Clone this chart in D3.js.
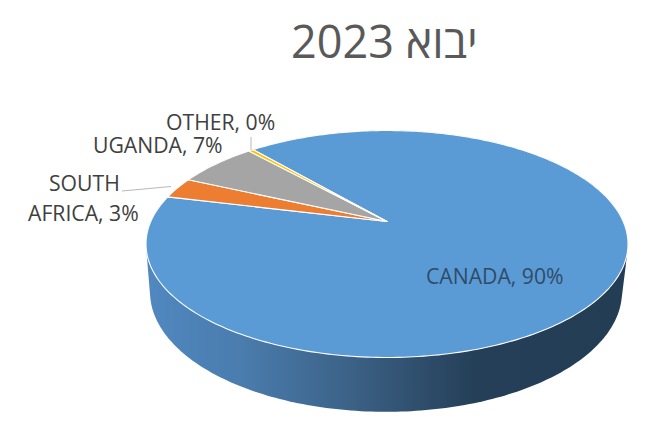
<!DOCTYPE html>
<html lang="he">
<head>
<meta charset="utf-8">
<script src="https://cdn.jsdelivr.net/npm/d3@7"></script>
<style>
html,body{margin:0;padding:0;background:#fff}
svg{display:block}
text{font-family:"Open Sans",sans-serif}
</style>
</head>
<body>
<svg id="c" width="667" height="424"></svg>
<script>
const chartTitle = "יבוא 2023";
const categories = ["CANADA", "SOUTH AFRICA", "UGANDA", "OTHER"];
const shares = [90.1, 3.0, 6.5, 0.4];
const colors = ["#5b9bd5", "#ed7d31", "#a5a5a5", "#ffc000"];

const svg = d3.select("#c");
const rad = Math.PI / 180;
const k = 0.1983;
const top3d = {cx: 387, cy: 221.5, R: 236.2, S: 109};
const bot3d = {cx: 386, cy: 268, R: 231.3, S: 115.3};
const project = (p, a, r = 1) => {
  const u = r * Math.sin(a), v = -r * Math.cos(a), w = 1 - k * v;
  return [p.cx + p.R * u / w, p.cy + p.S * v / w];
};
const rimAngles = d3.range(0, 361, 1).map(d => d * rad);

const pieGen = d3.pie().sort(null).value(d => d)
  .startAngle(-40.7 * rad).endAngle((360 - 40.7) * rad);
const arcs = pieGen(shares);
const line = d3.line();

const defs = svg.append("defs");
const grad = defs.append("linearGradient").attr("id", "side")
  .attr("gradientUnits", "userSpaceOnUse")
  .attr("x1", 146).attr("x2", 629).attr("y1", 0).attr("y2", 0);
[[0, "#5088c0"], [0.2, "#4a7cad"], [0.42, "#3c6287"], [0.68, "#253f58"], [1, "#233d55"]]
  .forEach(([o, c]) => grad.append("stop").attr("offset", o).attr("stop-color", c));

const hull = d3.polygonHull(rimAngles.flatMap(a => [project(top3d, a), project(bot3d, a)]));
svg.append("path").attr("d", line(hull) + "Z").attr("fill", "url(#side)");

svg.append("g").selectAll("path").data(arcs).join("path")
  .attr("d", d => {
    const n = Math.max(2, Math.ceil((d.endAngle - d.startAngle) / rad));
    const rim = d3.range(n + 1).map(i => project(top3d, d.startAngle + (d.endAngle - d.startAngle) * i / n));
    return line([project(top3d, 0, 0), ...rim]) + "Z";
  })
  .attr("fill", (d, i) => colors[i])
  .attr("stroke", "#fff").attr("stroke-width", 1.1).attr("stroke-linejoin", "round");

const leaders = svg.append("g").attr("fill", "none").attr("stroke", "#a6a6a6").attr("stroke-width", 0.8);
leaders.append("path").attr("d", line([[122, 191], [171, 186.5]]));
leaders.append("path").attr("d", line([[251, 137], [251, 150]]));

svg.append("text").attr("x", 384.5).attr("y", 58).attr("text-anchor", "middle")
  .attr("direction", "rtl").attr("font-size", 45).attr("fill", "#595959").text(chartTitle);

const pct = i => Math.round(shares[i]) + "%";
const lab = (x, y, s, fill, anchor = "start") => svg.append("text")
  .attr("x", x).attr("y", y).attr("font-size", 21.2).attr("fill", fill).attr("text-anchor", anchor)
  .text(s);
lab(426, 284, `${categories[0]}, ${pct(0)}`, "#2f4b68");
const sa = categories[1].split(" ");
lab(49, 191, sa[0], "#404040");
lab(28, 221, `${sa[1]}, ${pct(1)}`, "#404040");
lab(93, 153, `${categories[2]}, ${pct(2)}`, "#404040");
lab(166, 130, `${categories[3]}, ${pct(3)}`, "#404040");
</script>
</body>
</html>
